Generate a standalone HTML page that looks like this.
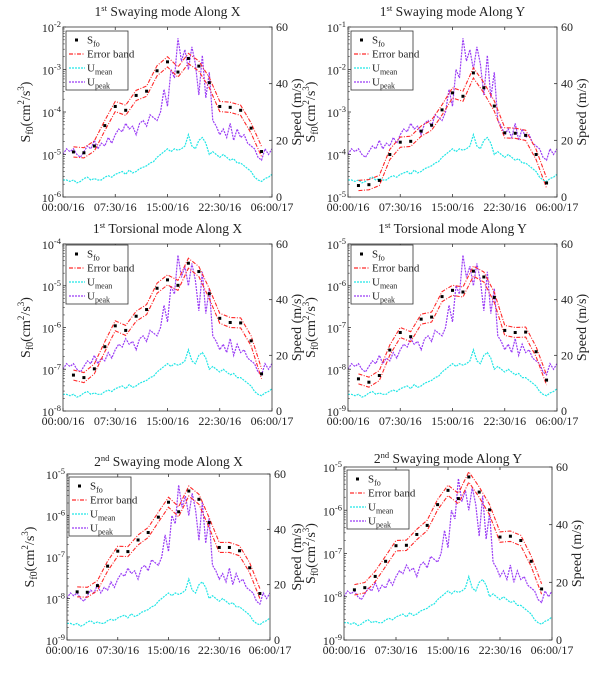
<!DOCTYPE html>
<html><head><meta charset="utf-8">
<style>
html,body{margin:0;padding:0;background:#fff;}
svg, svg text{font-family:"Liberation Serif","Times New Roman",serif;}
</style></head>
<body>
<svg id="fig" width="610" height="678" viewBox="0 0 610 678" xmlns="http://www.w3.org/2000/svg" font-family="Liberation Serif, serif"></svg>
<script>
// ---- shared wind data (hours from 00:00/16) ----
const windHours = [0,0.5,1,1.5,2,2.5,3,3.5,4,4.5,5,5.5,6,6.5,7,7.5,8,8.5,9,9.5,10,10.5,11,11.5,12,12.5,13,13.5,14,14.5,15,15.5,16,16.5,17,17.5,18,18.5,19,19.5,20,20.5,21,21.5,22,22.5,23,23.5,24,24.5,25,25.5,26,26.5,27,27.5,28,28.5,29,29.5,30];
const uMean = [6,6,5.5,6,5,5.5,6.5,7,6,6.5,6,6,7,7.5,7,8,8.5,9,8,9.5,8.5,9,10,10.5,11,12,12.5,14,15,16,17,16,17,16.5,17,18,22,18,17,20,21,19,15,16,15,14,15,14,13,13.5,12,12,11,10,9,7,6,5.5,6.5,7,8];
const uPeak = [15,17,16,17,15,14,16,18,17,20,17,19,18,21,19,22,24,23,26,24,25,22,26,27,25,29,28,27,30,38,32,45,42,56,48,52,45,53,47,36,50,35,44,27,25,22,24,21,26,20,24,21,22,19,18,17,14,13,17,15,17];
// ---- spectral peak points (log10 of S_f0) ----
const sfoHours = [1.5,3,4.5,6,7.5,9,10.5,12,13.5,15,16.5,18,19.5,21,22.5,24,25.5,27,28.5];
const sfoSwayX1 = [-4.94,-4.96,-4.80,-4.32,-3.87,-3.96,-3.61,-3.51,-3.03,-2.82,-3.06,-2.74,-2.92,-3.31,-3.87,-3.89,-3.96,-4.38,-4.93];
const sfoSwayY1 = [-4.73,-4.71,-4.61,-4.00,-3.71,-3.69,-3.45,-3.31,-2.95,-2.55,-2.63,-2.08,-2.43,-2.86,-3.49,-3.50,-3.55,-4.00,-4.67];
const sfoTorsX1 = [-7.14,-7.20,-6.99,-6.46,-5.96,-6.07,-5.73,-5.57,-5.06,-4.86,-4.99,-4.46,-4.66,-5.19,-5.78,-5.88,-5.89,-6.32,-7.11];
const sfoTorsY1 = [-8.23,-8.31,-8.15,-7.54,-7.12,-7.22,-6.80,-6.75,-6.26,-6.11,-6.15,-5.65,-5.79,-6.28,-7.07,-7.12,-7.11,-7.58,-8.26];
const sfoSwayX2 = [-7.84,-7.85,-7.69,-7.22,-6.86,-6.87,-6.59,-6.41,-6.04,-5.68,-5.91,-5.41,-5.61,-6.17,-6.77,-6.77,-6.85,-7.26,-7.88];
const sfoSwayY2 = [-7.84,-7.79,-7.53,-7.18,-6.82,-6.81,-6.56,-6.35,-5.87,-5.54,-5.73,-5.23,-5.58,-5.99,-6.62,-6.60,-6.70,-7.18,-7.82];
const bandHalfWidth = 0.12; // decades
const xTickHours = [0,7.5,15,22.5,30];
const xTickLabels = ["00:00/16","07:30/16","15:00/16","22:30/16","06:00/17"];
const speedTicks = [0,20,40,60];

const NS="http://www.w3.org/2000/svg";
const FF="Liberation Serif, serif";
const svg=document.getElementById('fig');
function mk(tag,attrs,parent){const e=document.createElementNS(NS,tag);for(const k in attrs)e.setAttribute(k,attrs[k]);if(tag==='text')e.setAttribute('font-family',FF);(parent||svg).appendChild(e);return e;}

const panels=[
 {key:'sway-x-1',ord:'st',name:' Swaying mode Along X',sfo:sfoSwayX1,top:-2,x0:63,x1:272,y0:27,y1:197,ty:16,ylx:27,yrx:298,lg:[66,31]},
 {key:'sway-y-1',ord:'st',name:' Swaying mode Along Y',sfo:sfoSwayY1,top:-1,x0:348,x1:557,y0:27,y1:197,ty:16,ylx:312,yrx:583,lg:[351,31]},
 {key:'torsion-x-1',ord:'st',name:' Torsional mode Along X',sfo:sfoTorsX1,top:-4,x0:63,x1:272,y0:244,y1:411,ty:233,ylx:27,yrx:298,lg:[66,245]},
 {key:'torsion-y-1',ord:'st',name:' Torsional mode Along Y',sfo:sfoTorsY1,top:-5,x0:348,x1:557,y0:244,y1:411,ty:233,ylx:312,yrx:583,lg:[351,245]},
 {key:'sway-x-2',ord:'nd',name:' Swaying mode Along X',sfo:sfoSwayX2,top:-5,x0:67,x1:270,y0:474,y1:640,ty:466,ylx:31,yrx:298,lg:[69,477]},
 {key:'sway-y-2',ord:'nd',name:' Swaying mode Along Y',sfo:sfoSwayY2,top:-5,x0:344,x1:552,y0:467,y1:640,ty:463,ylx:312,yrx:578,lg:[347,470]}
];

panels.forEach(p=>{
  const g=mk('g',{});
  
  
  const bot=p.top-4;
  const X=h=>p.x0+(h/30)*(p.x1-p.x0);
  const YL=l=>p.y0+(p.top-l)/4*(p.y1-p.y0);
  const YR=s=>p.y1-(s/60)*(p.y1-p.y0);
  const clipId='clip-'+p.key;
  const cp=mk('clipPath',{id:clipId},g);
  mk('rect',{x:p.x0,y:p.y0,width:p.x1-p.x0,height:p.y1-p.y0},cp);
  const plot=mk('g',{'clip-path':'url(#'+clipId+')'},g);
  const um=mk('polyline',{points:windHours.map((h,i)=>X(h)+','+YR(uMean[i])).join(' '),fill:'none',stroke:'#22e6e6','stroke-width':1.2,'stroke-dasharray':'2 1'},plot);
  
  
  const up=mk('polyline',{points:windHours.map((h,i)=>X(h)+','+YR(uPeak[i])).join(' '),fill:'none',stroke:'#9a3cf5','stroke-width':1.2,'stroke-dasharray':'2 1'},plot);
  
  
  [bandHalfWidth,-bandHalfWidth].forEach((d,k)=>{
    const b=mk('polyline',{points:sfoHours.map((h,i)=>X(h)+','+YL(p.sfo[i]+d)).join(' '),fill:'none',stroke:'#ff2a2a','stroke-width':1.1,'stroke-dasharray':'4 1.5 1 1.5'},plot);
    
    
  });
  sfoHours.forEach((h,i)=>{
    const c=mk('rect',{x:X(h)-1.5,y:YL(p.sfo[i])-1.5,width:3,height:3,fill:'#000'},plot);
    
    
  });
  mk('rect',{x:p.x0,y:p.y0,width:p.x1-p.x0,height:p.y1-p.y0,fill:'none',stroke:'#333','stroke-width':0.8},g);
  xTickHours.forEach((h,i)=>{
    const x=X(h);
    mk('line',{x1:x,y1:p.y1,x2:x,y2:p.y1-3,stroke:'#333','stroke-width':0.8},g);
    mk('line',{x1:x,y1:p.y0,x2:x,y2:p.y0+3,stroke:'#333','stroke-width':0.8},g);
    const t=mk('text',{x:x,y:p.y1+14,'font-size':12,'text-anchor':'middle',fill:'#222'},g);
    t.textContent=xTickLabels[i];
    
    
  });
  for(let e=p.top;e>=bot;e--){
    const y=YL(e);
    mk('line',{x1:p.x0,y1:y,x2:p.x0+3,y2:y,stroke:'#333','stroke-width':0.8},g);
    if(e>bot){for(let m=2;m<10;m++){const ym=YL(e-1+Math.log10(m));mk('line',{x1:p.x0,y1:ym,x2:p.x0+1.8,y2:ym,stroke:'#333','stroke-width':0.6},g);}}
    const t=mk('text',{x:p.x0-2,y:y+5,'font-size':12,'text-anchor':'end',fill:'#222'},g);
    t.innerHTML='10<tspan dy="-5" font-size="8.5">'+e+'</tspan>';
    
    
  }
  speedTicks.forEach(s=>{
    const y=YR(s);
    mk('line',{x1:p.x1,y1:y,x2:p.x1-3,y2:y,stroke:'#333','stroke-width':0.8},g);
    const t=mk('text',{x:p.x1+4,y:y+4,'font-size':12,fill:'#222'},g);
    t.textContent=s;
    
    
  });
  const tt=mk('text',{x:(p.x0+p.x1)/2,y:p.ty,'font-size':13.5,'text-anchor':'middle',fill:'#222'},g);
  tt.innerHTML=(p.ord==='nd'?'2':'1')+'<tspan dy="-5" font-size="8.5">'+p.ord+'</tspan><tspan dy="5">'+p.name+'</tspan>';
  
  
  const cy=(p.y0+p.y1)/2;
  const yl=mk('text',{x:p.ylx,y:cy,'font-size':14,'text-anchor':'middle',fill:'#222',transform:'rotate(-90 '+p.ylx+' '+cy+')','dominant-baseline':'middle'},g);
  yl.innerHTML='S<tspan dy="4" font-size="10">f0</tspan><tspan dy="-4">(cm</tspan><tspan dy="-5" font-size="9">2</tspan><tspan dy="5">/s</tspan><tspan dy="-5" font-size="9">3</tspan><tspan dy="5">)</tspan>';
  
  
  const yr=mk('text',{x:p.yrx,y:cy,'font-size':14,'text-anchor':'middle',fill:'#222',transform:'rotate(-90 '+p.yrx+' '+cy+')','dominant-baseline':'middle'},g);
  yr.textContent='Speed (m/s)';
  
  
  const lx=p.lg[0],ly=p.lg[1];
  const lg=mk('g',{},g);
  
  
  mk('rect',{x:lx,y:ly,width:62,height:59,fill:'#fff',stroke:'#333','stroke-width':0.8},lg);
  const rows=[['sfo','S','fo'],['band','Error band',''],['mean','U','mean'],['peak','U','peak']];
  rows.forEach((r,i)=>{
    const y=ly+9+i*14;
    if(r[0]==='sfo') mk('rect',{x:lx+9,y:y-1.5,width:3,height:3,fill:'#000'},lg);
    else mk('line',{x1:lx+3,y1:y,x2:lx+19,y2:y,stroke:r[0]==='band'?'#ff2a2a':r[0]==='mean'?'#22e6e6':'#9a3cf5','stroke-width':1.2,'stroke-dasharray':r[0]==='band'?'4 1.5 1 1.5':'2 1'},lg);
    const t=mk('text',{x:lx+21,y:y+3.5,'font-size':11,fill:'#222'},lg);
    t.innerHTML=r[1]+(r[2]?'<tspan dy="3" font-size="8">'+r[2]+'</tspan>':'');
    
    
  });
});
</script>
</body></html>
